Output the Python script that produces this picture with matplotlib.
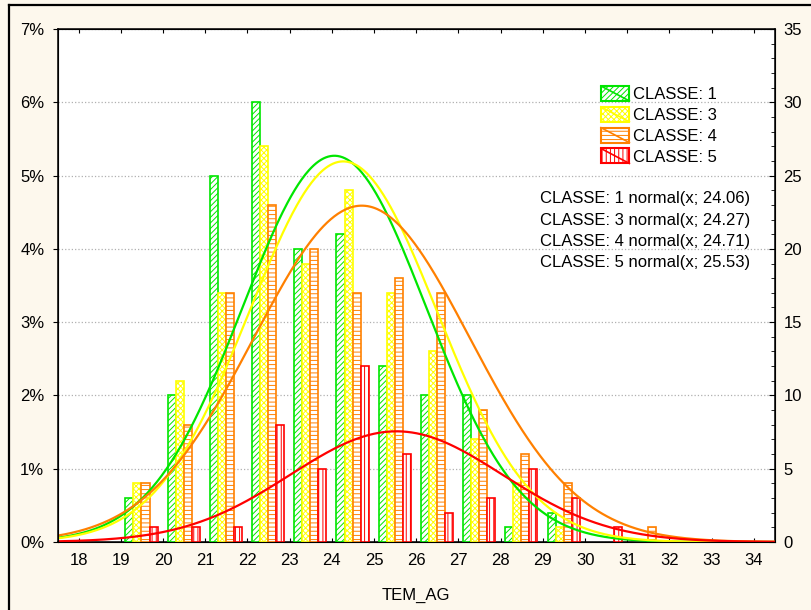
import numpy as np
import matplotlib
matplotlib.use("Agg")
import matplotlib.pyplot as plt
from matplotlib.patches import Rectangle
from matplotlib.lines import Line2D
from matplotlib.legend_handler import HandlerPatch
from matplotlib.ticker import FuncFormatter, MultipleLocator

plt.rcParams['font.family'] = ['Liberation Sans', 'DejaVu Sans']
plt.rcParams['hatch.linewidth'] = 0.7

# ---- data ----
bins = [19, 20, 21, 22, 23, 24, 25, 26, 27, 28, 29, 30, 31]
classes = ["CLASSE: 1", "CLASSE: 3", "CLASSE: 4", "CLASSE: 5"]
pct_c1 = [0.6, 2.0, 5.0, 6.0, 4.0, 4.2, 2.4, 2.0, 2.0, 0.2, 0.4, 0.0, 0.0]
pct_c3 = [0.8, 2.2, 3.4, 5.4, 3.8, 4.8, 3.4, 2.6, 1.4, 0.8, 0.2, 0.0, 0.0]
pct_c4 = [0.8, 1.6, 3.4, 4.6, 4.0, 3.4, 3.6, 3.4, 1.8, 1.2, 0.8, 0.0, 0.2]
pct_c5 = [0.2, 0.2, 0.2, 1.6, 1.0, 2.4, 1.2, 0.4, 0.6, 1.0, 0.6, 0.2, 0.0]
fit_means = [24.06, 24.27, 24.71, 25.53]
fit_sds = [2.18, 2.22, 2.56, 2.52]
fit_area = [28.8, 28.9, 29.45, 9.54]
fit_labels = ["CLASSE: 1 normal(x; 24.06)", "CLASSE: 3 normal(x; 24.27)",
              "CLASSE: 4 normal(x; 24.71)", "CLASSE: 5 normal(x; 25.53)"]

colors = ['#00e600', '#ffff00', '#ff8000', '#ff0000']
hatches = ['//////', 'xxxxxx', '----', '||||']
series = [pct_c1, pct_c3, pct_c4, pct_c5]

W, H = 811, 610
fig = plt.figure(figsize=(W / 100, H / 100), dpi=100, facecolor='#fdf8ed')
ax = fig.add_axes([57.5 / W, 1 - 542 / H, (775 - 57.5) / W, (542 - 29) / H])
ax.set_facecolor('white')

# border of window
fig.add_artist(Line2D([9 / W, 1], [1 - 5 / H, 1 - 5 / H], transform=fig.transFigure, color='black', lw=1.6))
fig.add_artist(Line2D([9 / W, 9 / W], [0, 1 - 5 / H], transform=fig.transFigure, color='black', lw=1.6))

bw = 0.19
off = 0.11
handles = []
for i, (vals, c, h, lab) in enumerate(zip(series, colors, hatches, classes)):
    xs = [b + off + i * bw for b, v in zip(bins, vals) if v > 0]
    ys = [v for v in vals if v > 0]
    ax.bar(xs, ys, width=bw, align='edge', facecolor='white', edgecolor=c,
           hatch=h, linewidth=1.2, zorder=3)
    handles.append(Rectangle((0, 0), 1, 1, facecolor='white', edgecolor=c, hatch=h, lw=1.5, label=lab))

xx = np.linspace(17.5, 34.5, 600)
for m, s, a, c in zip(fit_means, fit_sds, fit_area, colors):
    yy = a * np.exp(-0.5 * ((xx - m) / s) ** 2) / (s * np.sqrt(2 * np.pi))
    ax.plot(xx, yy, color=c, lw=1.6, zorder=4)

ax.set_xlim(17.5, 34.5)
ax.set_ylim(0, 7)
ax.set_xticks(range(18, 35))
ax.yaxis.set_major_locator(MultipleLocator(1))
ax.yaxis.set_major_formatter(FuncFormatter(lambda v, p: f"{int(round(v))}%"))
ax.grid(axis='y', color='#b0b0b0', linestyle=':', linewidth=0.9, zorder=0)
ax.set_axisbelow(True)
ax.tick_params(axis='x', which='both', direction='in', length=3, top=True, bottom=True,
               labelsize=12, pad=8)
ax.tick_params(axis='y', which='both', left=False, labelsize=12, pad=6)
for sp in ax.spines.values():
    sp.set_linewidth(1.1)

ax2 = ax.twinx()
ax2.set_ylim(0, 35)
ax2.yaxis.set_major_locator(MultipleLocator(5))
ax2.yaxis.set_minor_locator(MultipleLocator(1))
ax2.tick_params(axis='y', which='major', direction='in', length=4, labelsize=12, pad=6)
ax2.tick_params(axis='y', which='minor', direction='in', length=3)

ax.set_xlabel("TEM_AG", fontsize=12, labelpad=14)


class DiagHandler(HandlerPatch):
    def create_artists(self, legend, orig_handle, xdescent, ydescent, width, height, fontsize, trans):
        ec = orig_handle.get_edgecolor()
        p = Rectangle((-xdescent, -ydescent), width, height, facecolor='white', edgecolor=ec,
                      hatch=orig_handle.get_hatch(), lw=1.5, transform=trans)
        l = Line2D([-xdescent, -xdescent + width], [-ydescent + height, -ydescent], color=ec,
                   lw=1.2, transform=trans)
        return [p, l]


leg = ax.legend(handles=handles, loc='upper left', bbox_to_anchor=(601 / W, 1 - 86 / H),
                bbox_transform=fig.transFigure, frameon=False, fontsize=12, borderpad=0,
                borderaxespad=0, handlelength=1.7, handleheight=1.0, handletextpad=0.2,
                labelspacing=0.28, handler_map={Rectangle: DiagHandler()})
leg.set_zorder(6)

for k, t in enumerate(fit_labels):
    fig.text(540 / W, 1 - (199 + 21.2 * k) / H, t, fontsize=12, ha='left', va='center')

fig.savefig("out.png", dpi=100, facecolor=fig.get_facecolor())
